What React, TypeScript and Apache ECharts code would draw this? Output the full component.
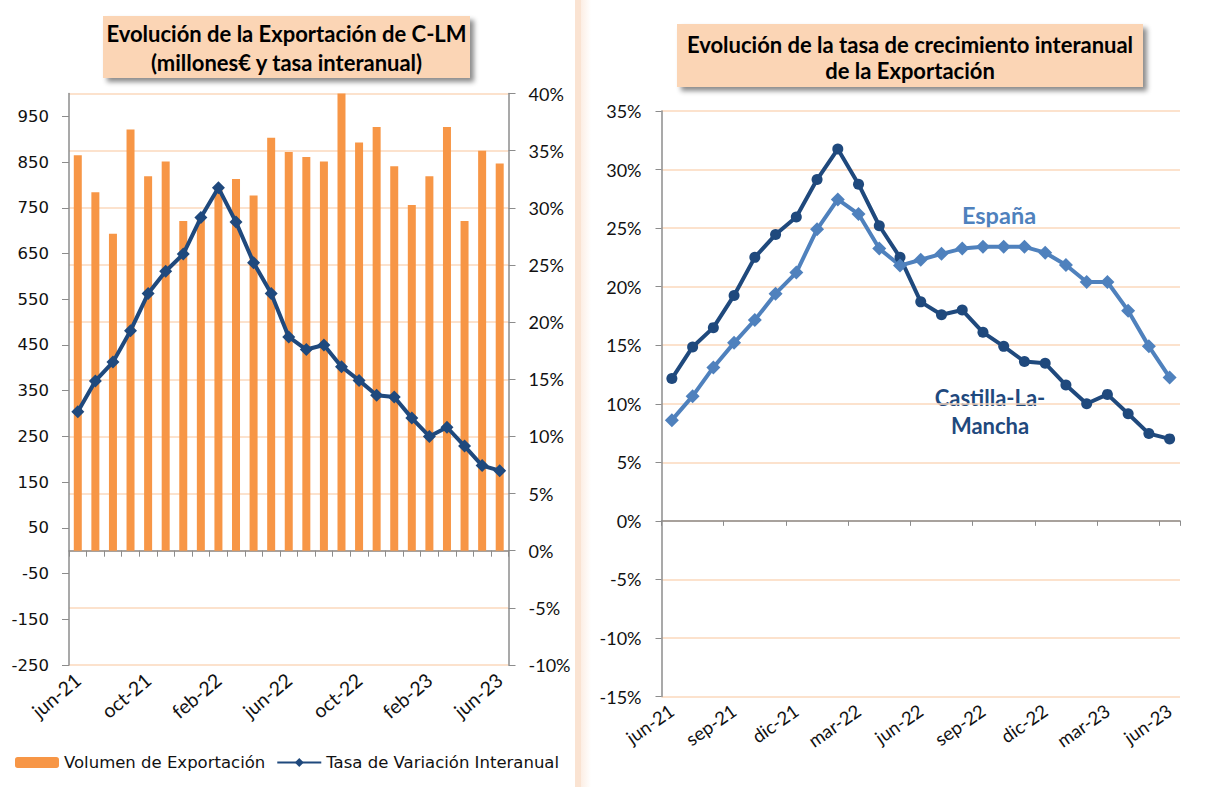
import React, { useEffect, useRef } from "react";
import * as echarts from "echarts";

const months = [
  "jun-21", "jul-21", "ago-21", "sep-21", "oct-21", "nov-21", "dic-21", "ene-22", "feb-22",
  "mar-22", "abr-22", "may-22", "jun-22", "jul-22", "ago-22", "sep-22", "oct-22", "nov-22",
  "dic-22", "ene-23", "feb-23", "mar-23", "abr-23", "may-23", "jun-23",
];

// Volumen de Exportación (millones €)
const volumen = [
  865, 784, 693, 921, 819, 851, 721, 728, 790, 813, 777, 903, 872, 861, 851, 1000, 893, 927,
  841, 756, 819, 927, 721, 875, 847,
];

// Tasa de variación interanual Castilla-La Mancha (%)
const tasaCLM = [
  12.15, 14.85, 16.5, 19.25, 22.5, 24.45, 25.95, 29.15, 31.75, 28.75, 25.2, 22.5, 18.7, 17.6,
  18.0, 16.1, 14.9, 13.6, 13.45, 11.6, 10.0, 10.8, 9.15, 7.45, 7.0,
];

// Tasa de variación interanual España (%)
const tasaEspana = [
  8.6, 10.65, 13.1, 15.2, 17.15, 19.4, 21.2, 24.9, 27.45, 26.2, 23.25, 21.8, 22.3, 22.8, 23.25,
  23.4, 23.4, 23.4, 22.9, 21.85, 20.4, 20.4, 17.95, 14.9, 12.25,
];

const leftTicks = [-250, -150, -50, 50, 150, 250, 350, 450, 550, 650, 750, 850, 950];

const GRID_COLOR = "#FBD9BD";
const AXIS_COLOR = "#8C8C8C";
const ORANGE = "#F79646";
const NAVY = "#1F497D";
const LIGHTBLUE = "#4F81BD";

export default function App() {
  const ref = useRef<HTMLDivElement>(null);

  useEffect(() => {
    if (!ref.current) return;
    const chart = echarts.init(ref.current, undefined, { renderer: "svg" });

    const pctLabel = {
      formatter: "{value}%",
      fontFamily: "Lato",
      fontSize: 18,
      color: "#111",
      margin: 20,
    };

    const option: any = {
      animation: false,
      backgroundColor: "#ffffff",
      grid: [
        { left: 69, right: 1205 - 508.5, top: 93.5, bottom: 787 - 665, containLabel: false },
        { left: 661.5, right: 1205 - 1180, top: 111, bottom: 787 - 696.5, containLabel: false },
      ],
      legend: {
        data: ["Volumen de Exportación", "Tasa de Variación Interanual"],
        left: 10,
        top: 749,
        itemWidth: 44,
        itemHeight: 11,
        itemGap: 11,
        textStyle: { fontFamily: "DejaVu Sans", fontSize: 16.5, color: "#111" },
      },
      xAxis: [
        {
          gridIndex: 0,
          type: "category",
          data: months,
          position: "bottom",
          boundaryGap: true,
          axisLine: { show: true, onZero: true, lineStyle: { color: AXIS_COLOR, width: 1.5 } },
          axisTick: { show: true, interval: 0, length: 6, lineStyle: { color: AXIS_COLOR } },
          axisLabel: { show: false },
          splitLine: { show: false },
        },
        {
          gridIndex: 0,
          type: "category",
          data: months,
          position: "bottom",
          boundaryGap: true,
          axisLine: { show: false, onZero: false },
          axisTick: { show: false },
          axisLabel: {
            interval: 3,
            rotate: 40,
            margin: 12,
            fontFamily: "Lato",
            fontSize: 19.5,
            color: "#111",
          },
          splitLine: { show: false },
        },
        {
          gridIndex: 1,
          type: "category",
          data: months,
          position: "bottom",
          boundaryGap: true,
          axisLine: { show: true, onZero: true, lineStyle: { color: AXIS_COLOR, width: 1.5 } },
          axisTick: { show: true, interval: 2, length: 5, lineStyle: { color: AXIS_COLOR } },
          axisLabel: { show: false },
          splitLine: { show: false },
        },
        {
          gridIndex: 1,
          type: "category",
          data: months,
          position: "bottom",
          boundaryGap: true,
          axisLine: { show: false, onZero: false },
          axisTick: { show: false },
          axisLabel: {
            interval: 2,
            rotate: 35,
            margin: 12,
            fontFamily: "Lato",
            fontSize: 18.5,
            color: "#111",
          },
          splitLine: { show: false },
        },
      ],
      yAxis: [
        {
          gridIndex: 0,
          type: "value",
          position: "left",
          min: -250,
          max: 1000,
          axisLine: { show: true, lineStyle: { color: AXIS_COLOR, width: 1.5 } },
          axisTick: { show: true, length: 7, customValues: leftTicks, lineStyle: { color: AXIS_COLOR } },
          axisLabel: {
            customValues: leftTicks,
            fontFamily: "DejaVu Sans",
            fontSize: 16.5,
            color: "#111",
            margin: 20,
          },
          splitLine: { show: false },
        },
        {
          gridIndex: 0,
          type: "value",
          position: "right",
          min: -10,
          max: 40,
          interval: 5,
          axisLine: { show: true, lineStyle: { color: AXIS_COLOR, width: 1.5 } },
          axisTick: { show: true, length: 7, lineStyle: { color: AXIS_COLOR } },
          axisLabel: pctLabel,
          splitLine: { show: true, lineStyle: { color: GRID_COLOR, width: 1.5 } },
        },
        {
          gridIndex: 1,
          type: "value",
          position: "left",
          min: -15,
          max: 35,
          interval: 5,
          axisLine: { show: true, lineStyle: { color: AXIS_COLOR, width: 1.5 } },
          axisTick: { show: true, length: 6, lineStyle: { color: AXIS_COLOR } },
          axisLabel: pctLabel,
          splitLine: { show: true, lineStyle: { color: GRID_COLOR, width: 1.5 } },
        },
      ],
      series: [
        {
          name: "Volumen de Exportación",
          type: "bar",
          xAxisIndex: 0,
          yAxisIndex: 0,
          data: volumen,
          barWidth: 8,
          itemStyle: { color: ORANGE },
        },
        {
          name: "Tasa de Variación Interanual",
          type: "line",
          xAxisIndex: 0,
          yAxisIndex: 1,
          data: tasaCLM,
          symbol: "diamond",
          symbolSize: 13,
          showSymbol: true,
          showAllSymbol: true,
          lineStyle: { color: NAVY, width: 4 },
          itemStyle: { color: NAVY },
        },
        {
          name: "Castilla-La-Mancha",
          type: "line",
          xAxisIndex: 2,
          yAxisIndex: 2,
          data: tasaCLM,
          symbol: "circle",
          symbolSize: 11,
          showSymbol: true,
          showAllSymbol: true,
          lineStyle: { color: NAVY, width: 4 },
          itemStyle: { color: NAVY },
        },
        {
          name: "España",
          type: "line",
          xAxisIndex: 2,
          yAxisIndex: 2,
          data: tasaEspana,
          symbol: "diamond",
          symbolSize: 14,
          showSymbol: true,
          showAllSymbol: true,
          lineStyle: { color: LIGHTBLUE, width: 4 },
          itemStyle: { color: LIGHTBLUE },
        },
      ],
      graphic: [
        {
          type: "rect",
          shape: { x: 575, y: 0, width: 6, height: 787 },
          style: { fill: "#FAE3D2" },
          silent: true,
        },
        {
          type: "rect",
          shape: { x: 581, y: 0, width: 10, height: 787 },
          style: {
            fill: new echarts.graphic.LinearGradient(0, 0, 1, 0, [
              { offset: 0, color: "#FCEEE4" },
              { offset: 1, color: "#FFFFFF" },
            ]),
          },
          silent: true,
        },
        {
          type: "rect",
          shape: { x: 103, y: 16, width: 367, height: 62 },
          style: {
            fill: "#FBD5B5",
            shadowBlur: 5,
            shadowOffsetX: 4,
            shadowOffsetY: 4,
            shadowColor: "rgba(0,0,0,0.45)",
          },
          silent: true,
        },
        {
          type: "text",
          x: 286.5,
          y: 48,
          style: {
            text: "Evolución de la Exportación de C-LM\n(millones€ y tasa interanual)",
            fontFamily: "Lato",
            fontWeight: "bold",
            fontSize: 22,
            lineHeight: 29,
            fill: "#000",
            textAlign: "center",
            textVerticalAlign: "middle",
          },
          silent: true,
        },
        {
          type: "rect",
          shape: { x: 677, y: 24, width: 466, height: 63 },
          style: {
            fill: "#FBD5B5",
            shadowBlur: 5,
            shadowOffsetX: 4,
            shadowOffsetY: 4,
            shadowColor: "rgba(0,0,0,0.45)",
          },
          silent: true,
        },
        {
          type: "text",
          x: 910,
          y: 57,
          style: {
            text: "Evolución de la tasa de crecimiento interanual\nde la Exportación",
            fontFamily: "Lato",
            fontWeight: "bold",
            fontSize: 22,
            lineHeight: 26,
            fill: "#000",
            textAlign: "center",
            textVerticalAlign: "middle",
          },
          silent: true,
        },
        {
          type: "text",
          x: 999,
          y: 215,
          style: {
            text: "España",
            fontFamily: "Lato",
            fontWeight: "bold",
            fontSize: 23.5,
            fill: LIGHTBLUE,
            textAlign: "center",
            textVerticalAlign: "middle",
          },
          silent: true,
        },
        {
          type: "text",
          x: 990,
          y: 411,
          style: {
            text: "Castilla-La-\nMancha",
            fontFamily: "Lato",
            fontWeight: "bold",
            fontSize: 22,
            lineHeight: 28,
            fill: NAVY,
            textAlign: "center",
            textVerticalAlign: "middle",
          },
          silent: true,
        },
      ],
    };

    chart.setOption(option);
    return () => chart.dispose();
  }, []);

  return (
    <div
      ref={ref}
      style={{ position: "fixed", left: 0, top: 0, width: 1205, height: 787, background: "#fff" }}
    />
  );
}
